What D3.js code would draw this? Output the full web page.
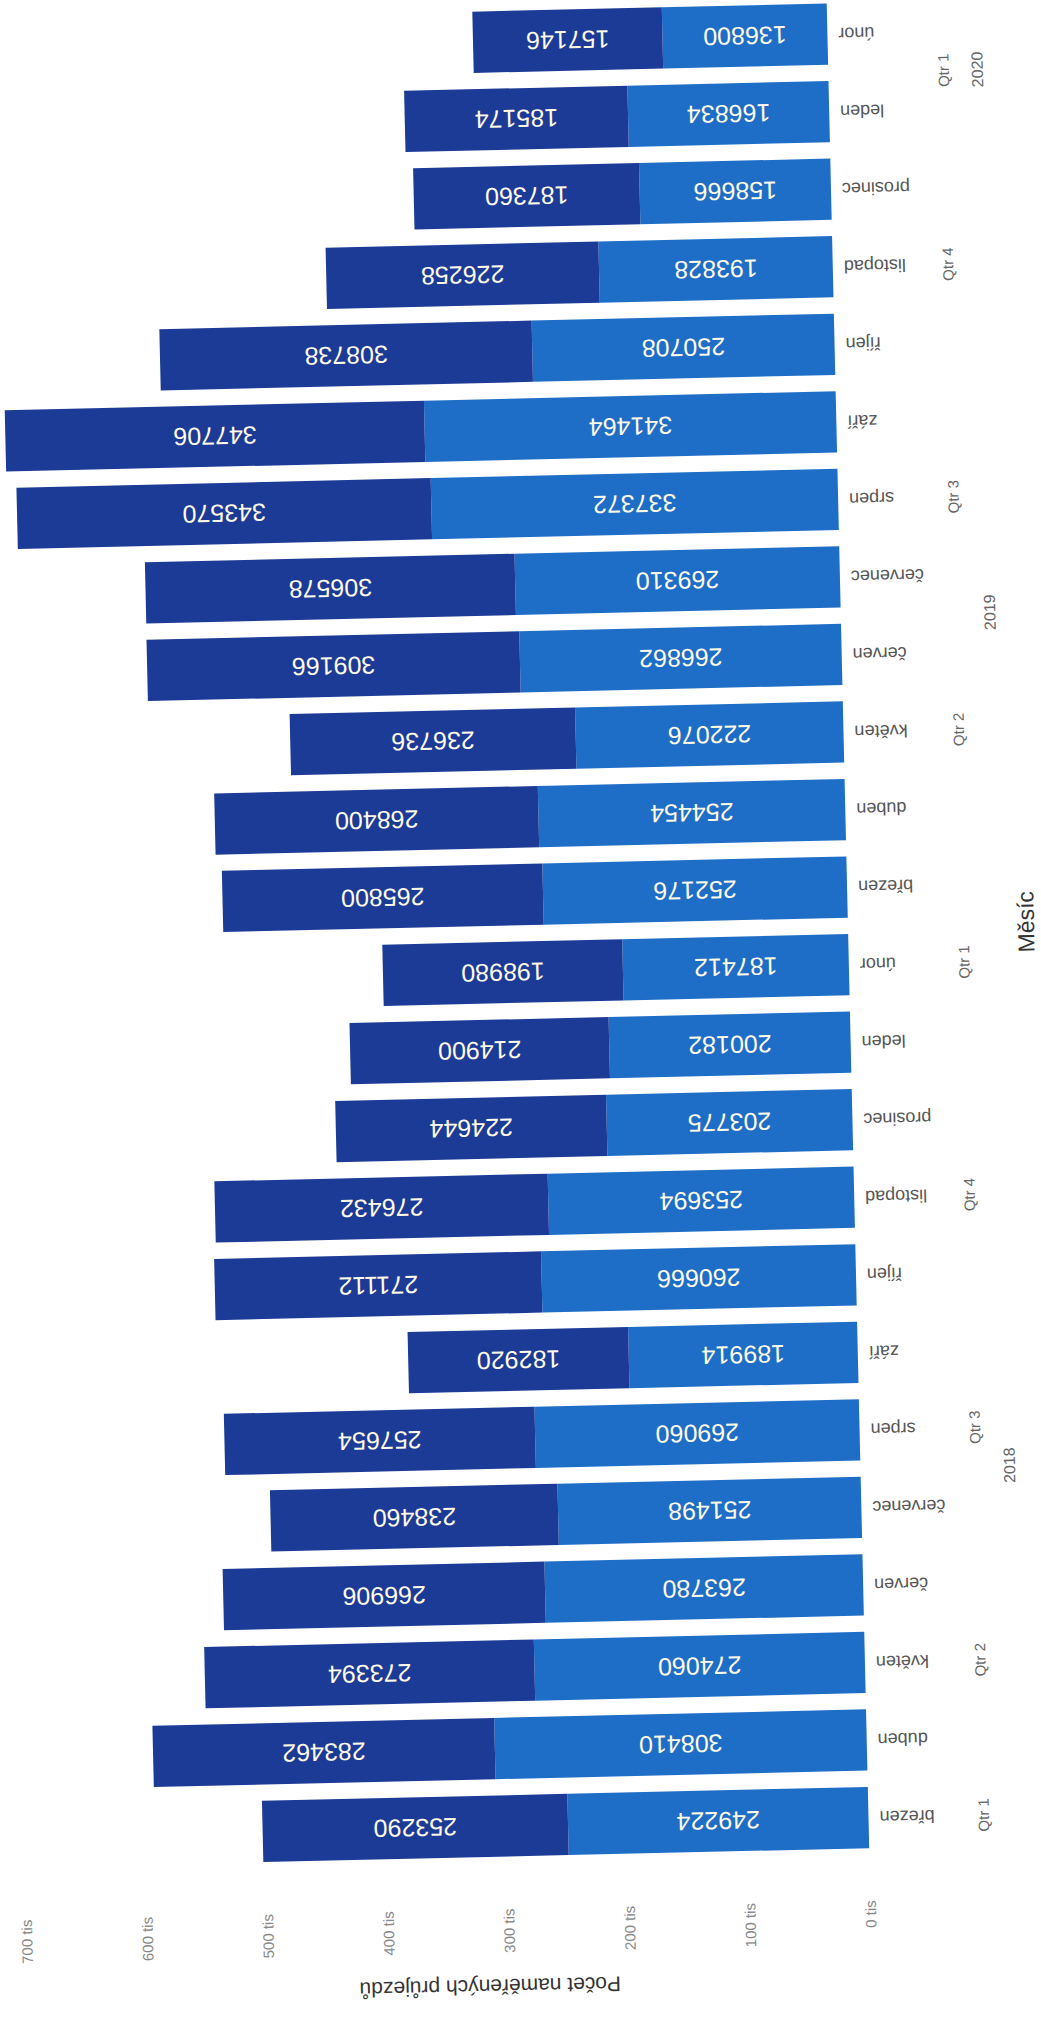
<!DOCTYPE html>
<html>
<head>
<meta charset="utf-8">
<script src="https://cdn.jsdelivr.net/npm/d3@7/dist/d3.min.js"></script>
<style>
  body { margin: 0; background: #fff; }
  text { font-family: "Liberation Sans", Arial, sans-serif; }
</style>
</head>
<body>
<div id="chart"></div>
<script>
// Months in order, with their quarter and year (hierarchical x axis).
var months = ["březen","duben","květen","červen","červenec","srpen","září","říjen","listopad","prosinec",
              "leden","únor","březen","duben","květen","červen","červenec","srpen","září","říjen","listopad","prosinec",
              "leden","únor"];
var quarters = ["Qtr 1","Qtr 2","Qtr 2","Qtr 2","Qtr 3","Qtr 3","Qtr 3","Qtr 4","Qtr 4","Qtr 4",
                "Qtr 1","Qtr 1","Qtr 1","Qtr 2","Qtr 2","Qtr 2","Qtr 3","Qtr 3","Qtr 3","Qtr 4","Qtr 4","Qtr 4",
                "Qtr 1","Qtr 1"];
var years = ["2018","2018","2018","2018","2018","2018","2018","2018","2018","2018",
             "2019","2019","2019","2019","2019","2019","2019","2019","2019","2019","2019","2019",
             "2020","2020"];

// lower (light) and upper (dark) segments
var lowerValues = [249224,308410,274060,263780,251498,269060,189914,260666,253694,203775,
                   200182,187412,252176,254454,222076,266862,269310,337372,341464,250708,193828,158666,
                   166834,136800];
var upperValues = [253290,283462,273394,266906,238460,257654,182920,271112,276432,224644,
                   214900,198980,265800,268400,236736,309166,306578,343570,347706,308738,226258,187360,
                   185174,157146];

var yTicks = [0,100000,200000,300000,400000,500000,600000,700000];

var colors = ["#1e6ec8", "#1c3b97"];

var width = 1041, height = 2022;
var step = 77.56, n = months.length;

var svg = d3.select("#chart").append("svg")
    .attr("width", width)
    .attr("height", height);

// the chart was scanned turned on its side, a little crooked
var g = svg.append("g")
    .attr("transform", "translate(869.4,1856.3) rotate(-91.32)");

var x = d3.scaleBand().domain(d3.range(n)).range([0, step * n])
    .paddingInner(0.21).paddingOuter(0.105);
var y = d3.scaleLinear().domain([0, 700000]).range([0, -844.2]);

var table = months.map(function(m, i) { return {i: i, a: lowerValues[i], b: upperValues[i]}; });
var series = d3.stack().keys(["a","b"])(table);

var layer = g.selectAll(".layer")
    .data(series)
  .enter().append("g")
    .attr("class", "layer")
    .attr("fill", function(d, k) { return colors[k]; });

layer.selectAll("rect")
    .data(function(d) { return d; })
  .enter().append("rect")
    .attr("x", function(d) { return x(d.data.i); })
    .attr("width", x.bandwidth())
    .attr("y", function(d) { return y(d[1]); })
    .attr("height", function(d) { return y(d[0]) - y(d[1]); });

// data labels inside the segments
layer.selectAll("text")
    .data(function(d) { return d.map(function(p) { p.key = d.key; return p; }); })
  .enter().append("text")
    .attr("transform", function(d) {
      var cx = x(d.data.i) + x.bandwidth() / 2, cy = (y(d[0]) + y(d[1])) / 2;
      return "translate(" + cx + "," + cy + ") rotate(-90)";
    })
    .attr("text-anchor", "middle")
    .attr("dominant-baseline", "central")
    .attr("fill", "#fffbe6")
    .style("font-size", "25px")
    .text(function(d) { return d.data[d.key]; });

// month labels
g.selectAll(".month")
    .data(months)
  .enter().append("text")
    .attr("class", "month")
    .attr("transform", function(d, i) {
      return "translate(" + (x(i) + x.bandwidth() / 2) + ",11) rotate(-90)";
    })
    .attr("text-anchor", "end")
    .attr("dominant-baseline", "central")
    .attr("fill", "#555")
    .style("font-size", "18px")
    .text(function(d) { return d; });

// group consecutive equal labels (quarters, years)
function runs(arr) {
  var out = [];
  arr.forEach(function(v, i) {
    var last = out[out.length - 1];
    if (last && last.label === v && last.end === i - 1 && (arr !== quarters || years[i] === years[last.start])) last.end = i;
    else out.push({label: v, start: i, end: i});
  });
  return out;
}
function runCenter(r) {
  return (x(r.start) + x(r.end) + x.bandwidth()) / 2;
}

g.selectAll(".qtr")
    .data(runs(quarters))
  .enter().append("text")
    .attr("class", "qtr")
    .attr("x", runCenter)
    .attr("y", 115)
    .attr("text-anchor", "middle")
    .attr("dominant-baseline", "central")
    .attr("fill", "#666")
    .style("font-size", "15px")
    .text(function(d) { return d.label; });

g.selectAll(".year")
    .data(runs(years))
  .enter().append("text")
    .attr("class", "year")
    .attr("x", runCenter)
    .attr("y", 149)
    .attr("text-anchor", "middle")
    .attr("dominant-baseline", "central")
    .attr("fill", "#666")
    .style("font-size", "16px")
    .text(function(d) { return d.label; });

// x axis title
g.append("text")
    .attr("x", step * n / 2)
    .attr("y", 178)
    .attr("text-anchor", "middle")
    .attr("dominant-baseline", "central")
    .attr("fill", "#333")
    .style("font-size", "23px")
    .text("Měsíc");

// value axis tick labels
g.selectAll(".tick")
    .data(yTicks)
  .enter().append("text")
    .attr("class", "tick")
    .attr("x", -44)
    .attr("y", function(d) { return y(d); })
    .attr("text-anchor", "end")
    .attr("dominant-baseline", "central")
    .attr("fill", "#888")
    .style("font-size", "15px")
    .text(function(d) { return (d / 1000) + " tis"; });

// value axis title
g.append("text")
    .attr("transform", "translate(-122,-382) rotate(-90)")
    .attr("text-anchor", "middle")
    .attr("dominant-baseline", "central")
    .attr("fill", "#333")
    .style("font-size", "21px")
    .text("Počet naměřených průjezdů");
</script>
</body>
</html>
